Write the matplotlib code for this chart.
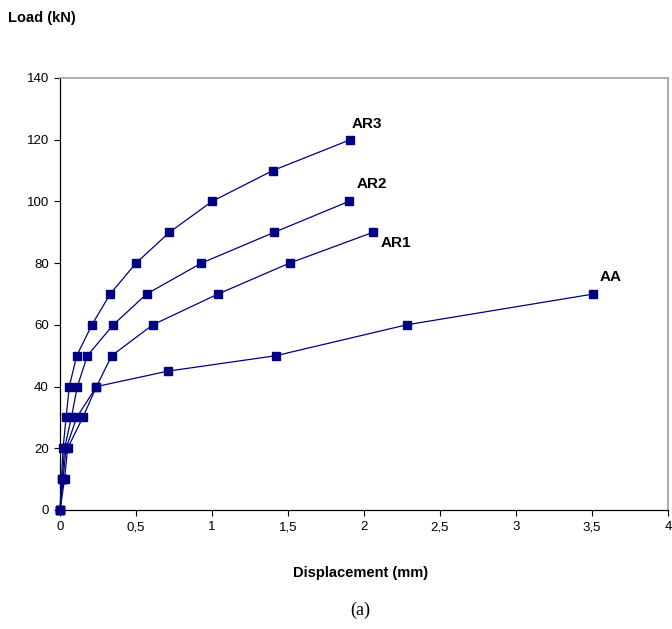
import matplotlib.pyplot as plt
import matplotlib.ticker as mticker

plt.rcParams['font.family'] = ['Liberation Sans', 'DejaVu Sans']

# load-displacement readings, one list pair per specimen
aa_x = [0, 0.03, 0.05, 0.15, 0.24, 0.71, 1.42, 2.28, 3.51]
aa_y = [0, 10, 20, 30, 40, 45, 50, 60, 70]
ar1_x = [0, 0.02, 0.04, 0.11, 0.24, 0.34, 0.61, 1.04, 1.51, 2.06]
ar1_y = [0, 10, 20, 30, 40, 50, 60, 70, 80, 90]
ar2_x = [0, 0.015, 0.03, 0.075, 0.114, 0.18, 0.35, 0.57, 0.93, 1.41, 1.90]
ar2_y = [0, 10, 20, 30, 40, 50, 60, 70, 80, 90, 100]
ar3_x = [0, 0.01, 0.02, 0.04, 0.061, 0.11, 0.21, 0.33, 0.50, 0.72, 1.0, 1.40, 1.91]
ar3_y = [0, 10, 20, 30, 40, 50, 60, 70, 80, 90, 100, 110, 120]

series = [('AA', aa_x, aa_y, (3.55, 75.5)),
          ('AR1', ar1_x, ar1_y, (2.11, 86.5)),
          ('AR2', ar2_x, ar2_y, (1.95, 105.5)),
          ('AR3', ar3_x, ar3_y, (1.92, 125))]

fig = plt.figure(figsize=(6.72, 6.29), dpi=100)
ax = fig.add_axes([0.0893, 0.1892, 0.9047, 0.6868])

for name, xs, ys, lab in series:
    ax.plot(xs, ys, color='#000080', lw=0.9, marker='s', ms=5.8,
            mec='#000080', mfc='#000080', clip_on=False, zorder=3)
    ax.text(lab[0], lab[1], name, fontsize=11, fontweight='bold',
            ha='left', va='center')

ax.set_xlim(0, 4)
ax.set_ylim(0, 140)
ax.xaxis.set_major_locator(mticker.MultipleLocator(0.5))
ax.yaxis.set_major_locator(mticker.MultipleLocator(20))
ax.xaxis.set_major_formatter(mticker.FuncFormatter(
    lambda v, p: ('%g' % v).replace('.', ',')))
ax.tick_params(labelsize=9.5, length=4, width=0.8, direction='out', pad=4)

for s in ['top', 'right']:
    ax.spines[s].set_color('#a0a0a0')
    ax.spines[s].set_linewidth(1.2)
for s in ['left', 'bottom']:
    ax.spines[s].set_color('black')
    ax.spines[s].set_linewidth(0.9)

fig.text(8 / 672, 1 - 18 / 629, 'Load (kN)', fontsize=10.5, fontweight='bold',
         ha='left', va='center')
fig.text(361 / 672, 1 - 573 / 629, 'Displacement (mm)', fontsize=10.5,
         fontweight='bold', ha='center', va='center')
fig.text(360 / 672, 1 - 610 / 629, '(a)', fontsize=13,
         family=['Liberation Serif', 'DejaVu Serif'], ha='center', va='center')

fig.savefig('out.png', dpi=100)
